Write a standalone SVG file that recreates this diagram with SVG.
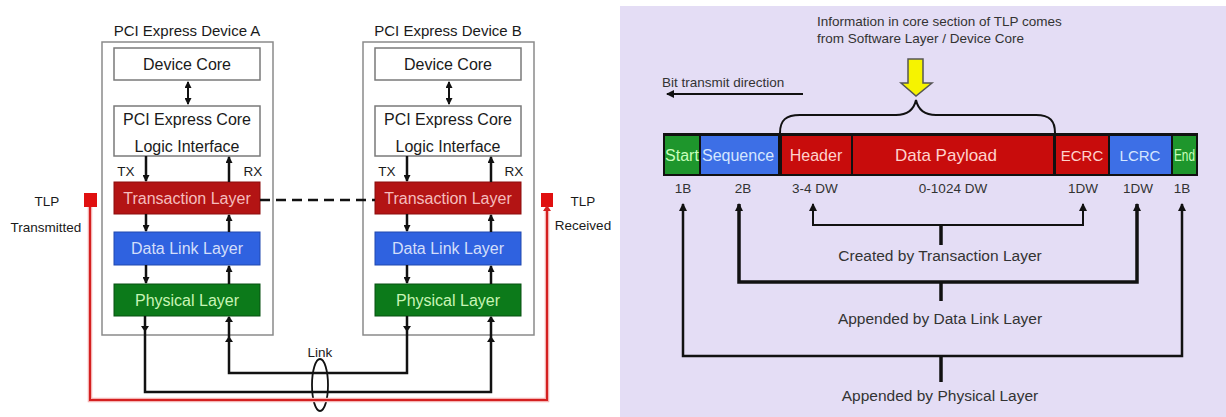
<svg xmlns="http://www.w3.org/2000/svg" width="1226" height="417" viewBox="0 0 1226 417">
<defs>
<marker id="ah" markerUnits="userSpaceOnUse" markerWidth="8" markerHeight="8" refX="7" refY="4" orient="auto-start-reverse"><path d="M0,0 L8,4 L0,8 Z" fill="#111"/></marker>
<marker id="ahs" markerUnits="userSpaceOnUse" markerWidth="7" markerHeight="7" refX="6" refY="3.5" orient="auto-start-reverse"><path d="M0,0 L7,3.5 L0,7 Z" fill="#111"/></marker>
<style>
text{font-family:"Liberation Sans",Arial,sans-serif;}
.t{fill:#1a1a1a;font-size:16px;text-anchor:middle;}
.ttl{fill:#1a1a1a;font-size:15px;text-anchor:middle;}
.sm{fill:#1a1a1a;font-size:13.5px;text-anchor:middle;}
.dev{fill:#fff;stroke:#8a8a8a;stroke-width:1.5;}
.wb{fill:#fff;stroke:#7a7a7a;stroke-width:1.5;}
.tl{fill:#B31414;stroke:#8c0c0c;stroke-width:1;}
.dl{fill:#2F62E0;stroke:#2048b0;stroke-width:1;}
.pl{fill:#0C7A1A;stroke:#075010;stroke-width:1;}
.ln{fill:none;stroke:#111;stroke-width:2.5;}
.br{fill:none;stroke:#111;}
.lab{fill:#333;font-size:13.5px;text-anchor:middle;}
.big{fill:#333;font-size:15.5px;text-anchor:middle;}
.seg{font-size:16px;text-anchor:middle;}
</style>
</defs>
<rect x="0" y="0" width="1226" height="417" fill="#fff"/>
<rect x="620" y="6" width="606" height="411" fill="#E4DDF5"/>

<g id="deviceA">
<text class="ttl" x="187" y="36">PCI Express Device A</text>
<rect class="dev" x="102" y="42" width="171" height="293"/>
</g>
<g id="deviceA-core">
<rect class="wb" x="114" y="48" width="146" height="32"/>
<text class="t" x="187" y="70">Device Core</text>
</g>
<g id="deviceA-logic">
<rect class="wb" x="114" y="106" width="146" height="50"/>
<text class="t" x="187" y="125">PCI Express Core</text>
<text class="t" x="187" y="152">Logic Interface</text>
<text class="sm" x="126" y="176">TX</text>
<text class="sm" x="253" y="176">RX</text>
</g>
<g id="deviceA-transaction">
<rect class="tl" x="114" y="182" width="146" height="32"/>
<text class="t" x="187" y="204" style="fill:#F5BDBD">Transaction Layer</text>
</g>
<g id="deviceA-datalink">
<rect class="dl" x="114" y="232" width="146" height="33"/>
<text class="t" x="187" y="254" style="fill:#D3DEFA">Data Link Layer</text>
</g>
<g id="deviceA-physical">
<rect class="pl" x="114" y="284" width="146" height="32"/>
<text class="t" x="187" y="306" style="fill:#C8F5B5">Physical Layer</text>
</g>

<g id="deviceB">
<text class="ttl" x="448" y="36">PCI Express Device B</text>
<rect class="dev" x="363" y="42" width="171" height="293"/>
</g>
<g id="deviceB-core">
<rect class="wb" x="375" y="48" width="146" height="32"/>
<text class="t" x="448" y="70">Device Core</text>
</g>
<g id="deviceB-logic">
<rect class="wb" x="375" y="106" width="146" height="50"/>
<text class="t" x="448" y="125">PCI Express Core</text>
<text class="t" x="448" y="152">Logic Interface</text>
<text class="sm" x="387" y="176">TX</text>
<text class="sm" x="514" y="176">RX</text>
</g>
<g id="deviceB-transaction">
<rect class="tl" x="375" y="182" width="146" height="32"/>
<text class="t" x="448" y="204" style="fill:#F5BDBD">Transaction Layer</text>
</g>
<g id="deviceB-datalink">
<rect class="dl" x="375" y="232" width="146" height="33"/>
<text class="t" x="448" y="254" style="fill:#D3DEFA">Data Link Layer</text>
</g>
<g id="deviceB-physical">
<rect class="pl" x="375" y="284" width="146" height="32"/>
<text class="t" x="448" y="306" style="fill:#C8F5B5">Physical Layer</text>
</g>

<g id="tlp-tx">
<rect x="84" y="193" width="13" height="14" fill="#E01010"/>
<text class="sm" x="47" y="206">TLP</text>
<text class="sm" x="46" y="232">Transmitted</text>
</g>
<g id="tlp-rx">
<rect x="541" y="193" width="12" height="14" fill="#E01010"/>
<text class="sm" x="583" y="206">TLP</text>
<text class="sm" x="583" y="230">Received</text>
</g>
<g id="link">
<ellipse cx="320" cy="385" rx="8" ry="26" fill="none" stroke="#111" stroke-width="1.8"/>
<text class="sm" x="320" y="357">Link</text>
</g>

<g id="connectors-left">
<path class="ln" d="M90,207 V400 H547 V209" style="stroke:#F4B4B4;stroke-width:4.5"/>
<path class="ln" d="M90,207 V400 H547 V209" style="stroke:#D42020;stroke-width:2"/>
<path d="M543,211 L547,205 L551,211 Z" fill="#D42020"/>
<line x1="260" y1="200" x2="375" y2="200" stroke="#111" stroke-width="2.5" stroke-dasharray="10,6"/>
<line class="ln" x1="188" y1="82" x2="188" y2="104" marker-start="url(#ahs)" marker-end="url(#ahs)" style="stroke-width:2"/>
<line class="ln" x1="449" y1="82" x2="449" y2="104" marker-start="url(#ahs)" marker-end="url(#ahs)" style="stroke-width:2"/>
<line class="ln" x1="146" y1="156" x2="146" y2="181" marker-end="url(#ahs)"/>
<line class="ln" x1="229" y1="182" x2="229" y2="157" marker-end="url(#ahs)"/>
<line class="ln" x1="146" y1="214" x2="146" y2="231" marker-end="url(#ahs)"/>
<line class="ln" x1="229" y1="232" x2="229" y2="215" marker-end="url(#ahs)"/>
<line class="ln" x1="146" y1="265" x2="146" y2="283" marker-end="url(#ahs)"/>
<line class="ln" x1="229" y1="284" x2="229" y2="266" marker-end="url(#ahs)"/>
<line class="ln" x1="407" y1="156" x2="407" y2="181" marker-end="url(#ahs)"/>
<line class="ln" x1="491" y1="182" x2="491" y2="157" marker-end="url(#ahs)"/>
<line class="ln" x1="407" y1="214" x2="407" y2="231" marker-end="url(#ahs)"/>
<line class="ln" x1="491" y1="232" x2="491" y2="215" marker-end="url(#ahs)"/>
<line class="ln" x1="407" y1="265" x2="407" y2="283" marker-end="url(#ahs)"/>
<line class="ln" x1="491" y1="284" x2="491" y2="266" marker-end="url(#ahs)"/>
<path class="ln" d="M145,316 V392 H491 V317"/>
<path class="ln" d="M229,317 V373 H407 V316"/>
<path d="M141,326 L149,326 L145,332 Z" fill="#111"/>
<path d="M403,326 L411,326 L407,332 Z" fill="#111"/>
<path d="M225,322 L233,322 L229,316 Z" fill="#111"/>
<path d="M225,342 L233,342 L229,336 Z" fill="#111"/>
<path d="M487,322 L495,322 L491,316 Z" fill="#111"/>
<path d="M487,342 L495,342 L491,336 Z" fill="#111"/>
</g>

<g id="info-note">
<text x="817" y="26" style="fill:#333;font-size:13.5px">Information in core section of TLP comes</text>
<text x="817" y="43" style="fill:#333;font-size:13.5px">from Software Layer / Device Core</text>
<path d="M908,59 H923 V83 H932 L916,96 L901,83 H908 Z" fill="#F6F300" stroke="#555" stroke-width="1.5"/>
</g>
<g id="bit-direction">
<text x="662" y="87" style="fill:#333;font-size:13.5px">Bit transmit direction</text>
</g>

<g id="tlp-bar">
<rect x="663" y="133" width="535" height="43" fill="#111"/>
</g>
<g id="seg-start"><rect x="665" y="136" width="34" height="38" fill="#1E962C"/><text class="seg" x="682" y="161" style="fill:#C8FFBC">Start</text></g>
<g id="seg-sequence"><rect x="701" y="136" width="77" height="38" fill="#3D6FE6"/><text class="seg" x="738" y="161" style="fill:#D5E6FF">Sequence</text></g>
<g id="seg-header"><rect x="782" y="136" width="69" height="38" fill="#C80C0C"/><text class="seg" x="816" y="161" style="fill:#FFD2CC">Header</text></g>
<g id="seg-payload"><rect x="853" y="136" width="200" height="38" fill="#C80C0C"/><text class="seg" x="946" y="161" style="fill:#FFD2CC;font-size:17px">Data Payload</text></g>
<g id="seg-ecrc"><rect x="1056" y="136" width="52" height="38" fill="#C80C0C"/><text class="seg" x="1082" y="161" style="fill:#FFD2CC;font-size:15px">ECRC</text></g>
<g id="seg-lcrc"><rect x="1110" y="136" width="61" height="38" fill="#3D6FE6"/><text class="seg" x="1140" y="161" style="fill:#D5E6FF;font-size:15px">LCRC</text></g>
<g id="seg-end"><rect x="1173" y="136" width="23" height="38" fill="#1E962C"/><text class="seg" x="1184.5" y="161" textLength="21" lengthAdjust="spacingAndGlyphs" style="fill:#C8FFBC">End</text></g>

<g id="sizes">
<text class="lab" x="683" y="193">1B</text>
<text class="lab" x="743" y="193">2B</text>
<text class="lab" x="815" y="193">3-4 DW</text>
<text class="lab" x="953" y="193">0-1024 DW</text>
<text class="lab" x="1083" y="193">1DW</text>
<text class="lab" x="1138" y="193">1DW</text>
<text class="lab" x="1182" y="193">1B</text>
</g>

<g id="label-transaction"><text class="big" x="940" y="261">Created by Transaction Layer</text></g>
<g id="label-datalink"><text class="big" x="940" y="324">Appended by Data Link Layer</text></g>
<g id="label-physical"><text class="big" x="940" y="401">Appended by Physical Layer</text></g>

<g id="connectors-right">
<path class="br" d="M780,133 C780,120 786,115 800,115 H896 C908,115 914,109 916,100 C918,109 924,115 936,115 H1036 C1050,115 1055,121 1055,133" stroke-width="2"/>
<line x1="803" y1="94" x2="667" y2="94" stroke="#111" stroke-width="2" marker-end="url(#ah)"/>
<path class="br" d="M813,204 V225 H1083 V204" stroke-width="2" marker-start="url(#ah)" marker-end="url(#ah)"/>
<line x1="941" y1="225" x2="941" y2="245" stroke="#111" stroke-width="3.5"/>
<path class="br" d="M739,204 V282 H1137 V204" stroke-width="3.5" marker-start="url(#ah)" marker-end="url(#ah)"/>
<line x1="941" y1="282" x2="941" y2="301" stroke="#111" stroke-width="3.5"/>
<path class="br" d="M683,204 V356 H1182 V204" stroke-width="2.5" marker-start="url(#ah)" marker-end="url(#ah)"/>
<line x1="941" y1="356" x2="941" y2="382" stroke="#111" stroke-width="3.5"/>
</g>
</svg>
